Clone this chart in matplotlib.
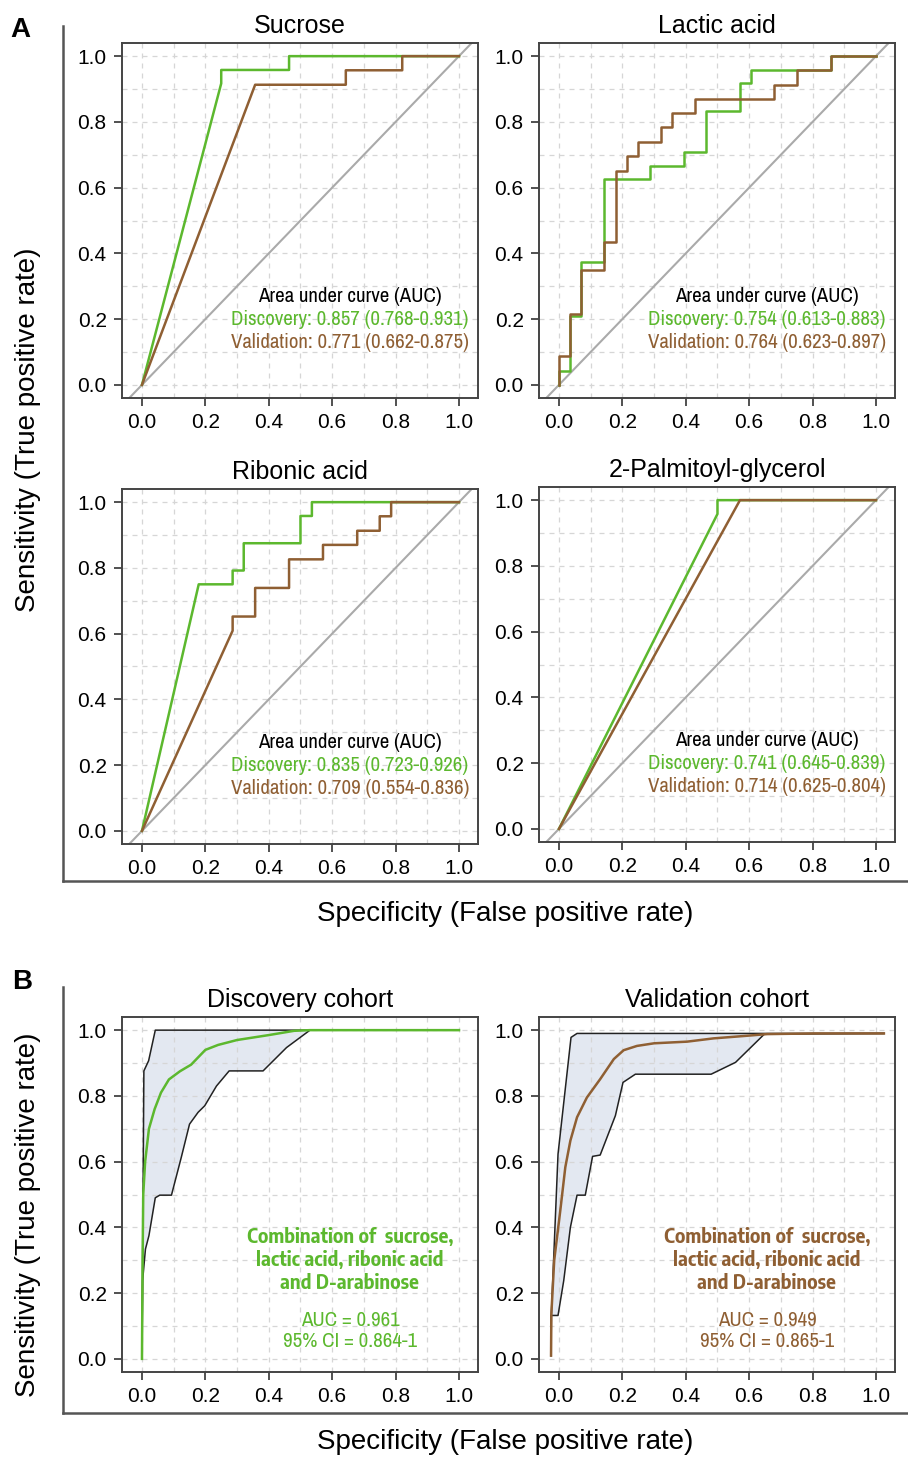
import matplotlib
matplotlib.use("Agg")
import matplotlib.pyplot as plt
from matplotlib.lines import Line2D
import numpy as np

GREEN = "#5cb82e"
BROWN = "#8f5f33"
FILL = "#e3e8f1"

# ---- single-metabolite ROC curves (FPR, TPR) ----
sucrose_disc_x = [0, 0.25, 0.25, 0.464, 0.464, 1.0]
sucrose_disc_y = [0, 0.917, 0.958, 0.958, 1.0, 1.0]
sucrose_val_x = [0, 0.357, 0.643, 0.643, 0.821, 0.821, 1.0]
sucrose_val_y = [0, 0.913, 0.913, 0.957, 0.957, 1.0, 1.0]

lactic_disc_x = [0, 0, 0.036, 0.036, 0.071, 0.071, 0.143, 0.143, 0.286, 0.286, 0.393, 0.393,
                 0.464, 0.464, 0.571, 0.571, 0.607, 0.607, 0.857, 0.857, 1.0]
lactic_disc_y = [0, 0.042, 0.042, 0.208, 0.208, 0.375, 0.375, 0.625, 0.625, 0.667, 0.667, 0.708,
                 0.708, 0.833, 0.833, 0.917, 0.917, 0.958, 0.958, 1.0, 1.0]
lactic_val_x = [0, 0, 0.036, 0.036, 0.071, 0.071, 0.143, 0.143, 0.179, 0.179, 0.214, 0.214, 0.25,
                0.25, 0.321, 0.321, 0.357, 0.357, 0.429, 0.429, 0.679, 0.679, 0.75, 0.75, 0.857,
                0.857, 1.0]
lactic_val_y = [0, 0.087, 0.087, 0.217, 0.217, 0.348, 0.348, 0.435, 0.435, 0.652, 0.652, 0.696,
                0.696, 0.739, 0.739, 0.783, 0.783, 0.826, 0.826, 0.870, 0.870, 0.913, 0.913, 0.957,
                0.957, 1.0, 1.0]

ribonic_disc_x = [0, 0.179, 0.286, 0.286, 0.321, 0.321, 0.5, 0.5, 0.536, 0.536, 1.0]
ribonic_disc_y = [0, 0.75, 0.75, 0.792, 0.792, 0.875, 0.875, 0.958, 0.958, 1.0, 1.0]
ribonic_val_x = [0, 0.286, 0.286, 0.357, 0.357, 0.464, 0.464, 0.571, 0.571, 0.679, 0.679, 0.75,
                 0.75, 0.786, 0.786, 1.0]
ribonic_val_y = [0, 0.609, 0.652, 0.652, 0.739, 0.739, 0.826, 0.826, 0.870, 0.870, 0.913, 0.913,
                 0.957, 0.957, 1.0, 1.0]

palm_disc_x = [0, 0.5, 0.5, 1.0]
palm_disc_y = [0, 0.958, 1.0, 1.0]
palm_val_x = [0, 0.571, 1.0]
palm_val_y = [0, 1.0, 1.0]

panel_titles = ["Sucrose", "Lactic acid", "Ribonic acid", "2-Palmitoyl-glycerol"]
disc_auc = ["0.857 (0.768-0.931)", "0.754 (0.613-0.883)", "0.835 (0.723-0.926)", "0.741 (0.645-0.839)"]
val_auc = ["0.771 (0.662-0.875)", "0.764 (0.623-0.897)", "0.709 (0.554-0.836)", "0.714 (0.625-0.804)"]

# ---- combined model (smoothed ROC with CI band) ----
comb_disc_x = [0, 0.002, 0.004, 0.01, 0.022, 0.04, 0.06, 0.085, 0.12, 0.155, 0.17, 0.2, 0.24,
               0.3, 0.4, 0.48, 0.53, 1.0]
comb_disc_y = [0, 0.3, 0.5, 0.6, 0.7, 0.76, 0.81, 0.85, 0.875, 0.895, 0.91, 0.94, 0.955,
               0.97, 0.985, 0.998, 1.0, 1.0]
comb_disc_hi_x = [0, 0.006, 0.021, 0.042, 1.0]
comb_disc_hi_y = [0, 0.876, 0.907, 1.0, 1.0]
comb_disc_lo_x = [0, 0.002, 0.011, 0.022, 0.042, 0.056, 0.093, 0.124, 0.15, 0.177, 0.198, 0.235,
                  0.275, 0.382, 0.456, 0.53, 1.0]
comb_disc_lo_y = [0, 0.238, 0.334, 0.375, 0.49, 0.498, 0.498, 0.613, 0.714, 0.75, 0.77, 0.83,
                  0.876, 0.876, 0.947, 1.0, 1.0]

comb_val_x = [-0.025, -0.024, -0.015, 0.004, 0.02, 0.036, 0.057, 0.088, 0.13, 0.173, 0.204, 0.246,
              0.3, 0.404, 0.488, 0.594, 0.657, 0.804, 1.025]
comb_val_y = [0.01, 0.137, 0.3, 0.45, 0.583, 0.664, 0.735, 0.795, 0.851, 0.912, 0.939, 0.952,
              0.96, 0.965, 0.975, 0.983, 0.988, 0.99, 0.99]
comb_val_hi_x = [-0.025, -0.024, -0.003, 0.038, 0.057, 1.025]
comb_val_hi_y = [0.01, 0.137, 0.623, 0.978, 0.99, 0.99]
comb_val_lo_x = [-0.025, -0.025, -0.003, 0.015, 0.036, 0.057, 0.083, 0.106, 0.13, 0.178, 0.202,
                 0.241, 0.48, 0.557, 0.648, 1.025]
comb_val_lo_y = [0.01, 0.132, 0.132, 0.238, 0.4, 0.498, 0.498, 0.616, 0.62, 0.74, 0.841, 0.866,
                 0.866, 0.902, 0.988, 0.99]

combo_label = "Combination of  sucrose,\nlactic acid, ribonic acid\nand D-arabinose"
combo_auc = ["AUC = 0.961\n95% CI = 0.864-1", "AUC = 0.949\n95% CI = 0.865-1"]

plt.rcParams["font.family"] = ["Liberation Sans", "DejaVu Sans"]
NARROW = ["Archivo Narrow", "Liberation Sans"]
NARROW_BOLD = ["Encode Sans Semi Condensed", "Liberation Sans"]

W, H = 908, 1458
fig = plt.figure(figsize=(W / 100, H / 100), dpi=100)


def make_axes(left, top, right, bottom, diagonal=True):
    ax = fig.add_axes([left / W, 1 - bottom / H, (right - left) / W, (bottom - top) / H])
    ax.set_xlim(-0.063, 1.06)
    ax.set_ylim(-0.04, 1.04)
    ticks = np.arange(0, 1.01, 0.2)
    ax.set_xticks(ticks)
    ax.set_yticks(ticks)
    ax.set_xticklabels([f"{t:.1f}" for t in ticks])
    ax.set_yticklabels([f"{t:.1f}" for t in ticks])
    ax.set_xticks(np.arange(0.1, 1.0, 0.2), minor=True)
    ax.set_yticks(np.arange(0.1, 1.0, 0.2), minor=True)
    ax.tick_params(which="major", direction="out", length=6, width=1.2, color="#333333",
                   labelsize=15, pad=5)
    ax.tick_params(which="minor", length=0)
    ax.set_axisbelow(True)
    ax.grid(which="both", color="#d6d6d6", linestyle=(0, (4, 4)), linewidth=0.9)
    for s in ax.spines.values():
        s.set_color("#444444")
        s.set_linewidth(1.4)
    if diagonal:
        ax.axline((0, 0), (1, 1), color="#aaaaaa", linewidth=1.5, zorder=1)
    return ax


boxes_a = [(122, 43, 478, 398), (539, 43, 895, 398), (122, 489, 478, 844), (539, 487, 895, 842)]
curves = [
    (sucrose_disc_x, sucrose_disc_y, sucrose_val_x, sucrose_val_y),
    (lactic_disc_x, lactic_disc_y, lactic_val_x, lactic_val_y),
    (ribonic_disc_x, ribonic_disc_y, ribonic_val_x, ribonic_val_y),
    (palm_disc_x, palm_disc_y, palm_val_x, palm_val_y),
]

for i, box in enumerate(boxes_a):
    ax = make_axes(*box)
    dx, dy, vx, vy = curves[i]
    ax.plot(dx, dy, color=GREEN, linewidth=1.8, zorder=3)
    ax.plot(vx, vy, color=BROWN, linewidth=1.8, zorder=4)
    ax.set_title(panel_titles[i], fontsize=18, pad=7)
    ax.text(0.656, 0.27, "Area under curve (AUC)", family=NARROW, fontsize=15,
            ha="center", va="center", color="black")
    ax.text(0.656, 0.198, "Discovery: " + disc_auc[i], family=NARROW, fontsize=15,
            ha="center", va="center", color=GREEN)
    ax.text(0.656, 0.128, "Validation: " + val_auc[i], family=NARROW, fontsize=15,
            ha="center", va="center", color=BROWN)

# panel B
b_data = [
    (comb_disc_x, comb_disc_y, comb_disc_hi_x, comb_disc_hi_y, comb_disc_lo_x, comb_disc_lo_y, GREEN),
    (comb_val_x, comb_val_y, comb_val_hi_x, comb_val_hi_y, comb_val_lo_x, comb_val_lo_y, BROWN),
]
boxes_b = [(122, 1017, 478, 1372), (539, 1017, 895, 1372)]
titles_b = ["Discovery cohort", "Validation cohort"]

for i, box in enumerate(boxes_b):
    ax = make_axes(*box, diagonal=False)
    cx, cy, hx, hy, lx, ly, col = b_data[i]
    # CI band: polygon between upper and lower bounds
    px = list(hx) + list(lx[::-1])
    py = list(hy) + list(ly[::-1])
    ax.fill(px, py, color=FILL, zorder=0.2, linewidth=0)
    ax.plot(hx, hy, color="#222222", linewidth=1.1, zorder=3)
    ax.plot(lx, ly, color="#222222", linewidth=1.1, zorder=3)
    ax.plot(cx, cy, color=col, linewidth=1.8, zorder=4)
    ax.set_title(titles_b[i], fontsize=18, pad=7)
    ax.text(0.656, 0.30, combo_label, family=NARROW_BOLD, fontsize=13.6, fontweight="bold",
            ha="center", va="center", color=col, linespacing=1.18)
    ax.text(0.656, 0.084, combo_auc[i], family=NARROW, fontsize=15,
            ha="center", va="center", color=col, linespacing=1.12)

# outer frames and labels
frame_col = "#555555"
for (x0, y0, y1) in [(63, 26, 881), (63, 987, 1413)]:
    fig.add_artist(Line2D([x0 / W, x0 / W], [1 - y0 / H, 1 - y1 / H], color=frame_col, linewidth=1.8))
    fig.add_artist(Line2D([x0 / W, 1.0], [1 - y1 / H, 1 - y1 / H], color=frame_col, linewidth=1.8))

fig.text(20 / W, 1 - 30 / H, "A", fontsize=20, fontweight="bold", ha="center", va="center")
fig.text(22 / W, 1 - 982 / H, "B", fontsize=20, fontweight="bold", ha="center", va="center")

ylab = "Sensitivity (True positive rate)"
xlab = "Specificity (False positive rate)"
fig.text(28 / W, 1 - 430 / H, ylab, fontsize=20, rotation=90, ha="center", va="center")
fig.text(28 / W, 1 - 1215 / H, ylab, fontsize=20, rotation=90, ha="center", va="center")
fig.text(505 / W, 1 - 914 / H, xlab, fontsize=20, ha="center", va="center")
fig.text(505 / W, 1 - 1442 / H, xlab, fontsize=20, ha="center", va="center")

fig.savefig("out.png", dpi=100)
